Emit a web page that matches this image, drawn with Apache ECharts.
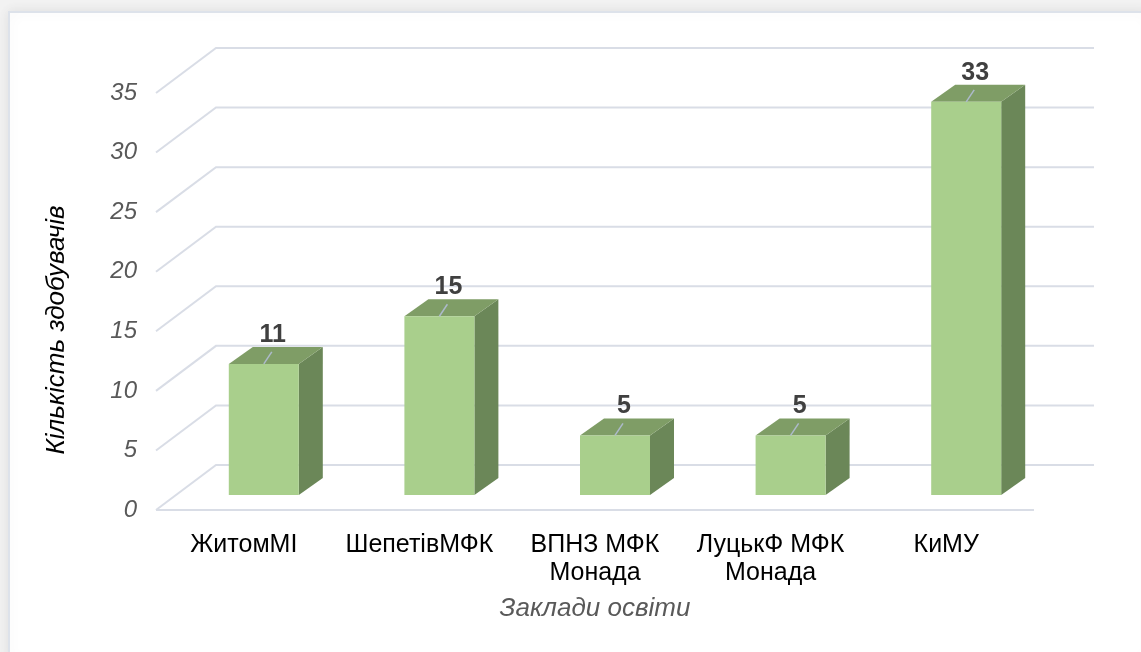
<!DOCTYPE html>
<html>
<head>
<meta charset="utf-8">
<script src="https://cdn.jsdelivr.net/npm/echarts@6/dist/echarts.min.js"></script>
<style>html,body{margin:0;padding:0;background:#f2f2f2;}#c{width:1141px;height:652px;}</style>
</head>
<body>
<div id="c"></div>
<script>
const categories = ['ЖитомМІ', 'ШепетівМФК', 'ВПНЗ МФК\nМонада', 'ЛуцькФ МФК\nМонада', 'КиМУ'];
const values = [11, 15, 5, 5, 33];
const yTicks = [0, 5, 10, 15, 20, 25, 30, 35];
const yTitle = 'Кількість здобувачів';
const xTitle = 'Заклади освіти';

const FONT = "'Liberation Sans', Arial, sans-serif";
// depth projection of the wall (px)
const WDX = 60, WDY = 45;
// bar offset from front plane and bar depth (px)
const OFFX = 20, OFFY = 15, BDX = 24, BDY = 17, BW = 70;

const chart = echarts.init(document.getElementById('c'));
chart.setOption({
  backgroundColor: '#f2f2f2',
  animation: false,
  graphic: [{
    type: 'rect', z: -10, silent: true,
    shape: { x: 9, y: 12, width: 1140, height: 650 },
    style: { fill: '#ffffff', stroke: '#dde2ea', lineWidth: 2, shadowBlur: 12, shadowColor: 'rgba(0,0,0,0.08)' }
  }, {
    type: 'text', silent: true, x: 57, y: 330, rotation: Math.PI / 2,
    style: { text: yTitle, fontFamily: FONT, fontSize: 26, fontStyle: 'italic', fill: '#000',
      align: 'center', verticalAlign: 'middle' }
  }],
  grid: { left: 156, right: 107, top: 93, bottom: 142, containLabel: false },
  xAxis: {
    type: 'category', data: categories,
    axisLine: { show: false }, axisTick: { show: false }, splitLine: { show: false },
    axisLabel: { fontFamily: FONT, fontSize: 25, color: '#000', margin: 21, lineHeight: 28, interval: 0 },
    name: xTitle, nameLocation: 'middle', nameGap: 86,
    nameTextStyle: { fontFamily: FONT, fontSize: 26, fontStyle: 'italic', color: '#595959' }
  },
  yAxis: {
    type: 'value', min: 0, max: 35, interval: 5,
    axisLine: { show: false }, axisTick: { show: false }, splitLine: { show: false },
    axisLabel: { fontFamily: FONT, fontSize: 24, fontStyle: 'italic', color: '#595959', margin: 19 }
  },
  series: [
    {
      type: 'custom', z: 1, silent: true,
      data: yTicks.map(v => [0, v]),
      encode: { x: 0, y: 1 },
      renderItem: function (params, api) {
        const cs = params.coordSys;
        const v = api.value(1);
        const y = api.coord([0, v])[1];
        const x0 = cs.x, x1 = cs.x + cs.width;
        const children = [{
          type: 'polyline',
          shape: { points: [[x0, y], [x0 + WDX, y - WDY], [x1 + WDX, y - WDY]] },
          style: { stroke: '#d9dde6', lineWidth: 2, fill: null }
        }];
        if (v === 0) {
          children.push({
            type: 'line', shape: { x1: x0, y1: y, x2: x1, y2: y },
            style: { stroke: '#d9dde6', lineWidth: 2 }
          });
        }
        return { type: 'group', children: children };
      }
    },
    {
      type: 'custom', z: 5, silent: true,
      data: values.map((v, i) => [i, v]),
      encode: { x: 0, y: 1 },
      renderItem: function (params, api) {
        const i = api.value(0), v = api.value(1);
        const top = api.coord([i, v]);
        const base = api.coord([i, 0]);
        const cx = top[0] + OFFX;
        const yt = top[1] - OFFY, yb = base[1] - OFFY;
        const xl = cx - BW / 2, xr = cx + BW / 2;
        return {
          type: 'group',
          children: [
            { type: 'polygon', shape: { points: [[xr, yt], [xr + BDX, yt - BDY], [xr + BDX, yb - BDY], [xr, yb]] },
              style: { fill: '#6b8758' } },
            { type: 'polygon', shape: { points: [[xl, yt], [xl + BDX, yt - BDY], [xr + BDX, yt - BDY], [xr, yt]] },
              style: { fill: '#7f9d66' } },
            { type: 'rect', shape: { x: xl, y: yt, width: BW, height: yb - yt },
              style: { fill: '#a9cf8c' } },
            { type: 'line', shape: { x1: cx, y1: yt, x2: cx + 8, y2: yt - 12 },
              style: { stroke: '#adbacb', lineWidth: 1.5 } },
            { type: 'text', style: { x: cx + 9, y: yt - 29, text: String(v), fontFamily: FONT, fontSize: 25,
              fontWeight: 'bold', fill: '#404040', align: 'center', verticalAlign: 'middle' } }
          ]
        };
      }
    }
  ]
});
</script>
</body>
</html>
